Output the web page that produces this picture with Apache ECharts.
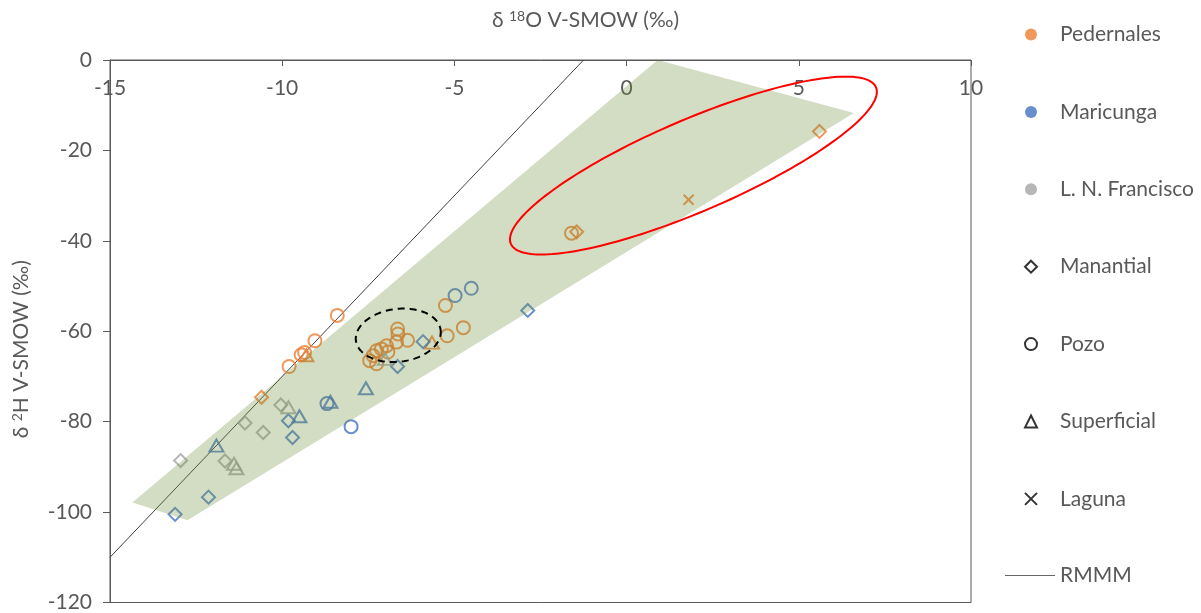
<!DOCTYPE html>
<html>
<head>
<meta charset="utf-8">
<script src="https://cdn.jsdelivr.net/npm/echarts@6/dist/echarts.min.js"></script>
<style>
  html, body { margin: 0; padding: 0; background: #ffffff; }
  #chart { width: 1201px; height: 613px; }
</style>
</head>
<body>
<div id="chart"></div>
<script>
// Axis ticks (δ18O on x, δ2H on y, both ‰ V-SMOW)
const xTickValues = [-15, -10, -5, 0, 5, 10];
const yTickValues = [-120, -100, -80, -60, -40, -20, 0];

// Pedernales samples [δ18O, δ2H]
const pedernalesManantial = [[-10.6, -74.6], [-1.45, -38.0], [5.6, -15.8]];
const pedernalesPozo = [
  [-8.4, -56.5], [-9.05, -62.1], [-9.45, -65.2], [-9.35, -64.7], [-9.8, -67.8],
  [-5.26, -54.3], [-4.74, -59.2], [-5.21, -61.0],
  [-6.65, -59.5], [-6.64, -60.6], [-6.36, -62.0], [-6.68, -62.4], [-6.97, -63.2],
  [-7.12, -63.9], [-7.26, -64.3], [-6.93, -64.6], [-7.36, -65.4], [-7.46, -66.5],
  [-7.26, -67.2], [-1.6, -38.3]
];
const pedernalesSuperficial = [[-9.3, -65.3], [-5.65, -62.5]];
const pedernalesLaguna = [[1.8, -30.9]];

// Maricunga samples
const maricungaManantial = [
  [-2.87, -55.4], [-5.91, -62.3], [-6.65, -67.8], [-9.82, -79.8],
  [-9.70, -83.5], [-12.14, -96.7], [-13.11, -100.5]
];
const maricungaPozo = [[-4.51, -50.5], [-4.98, -52.1], [-8.0, -81.1], [-8.7, -76.0]];
const maricungaSuperficial = [[-8.6, -75.6], [-7.57, -72.6], [-9.5, -78.8], [-11.91, -85.3]];

// Laguna Negro Francisco samples
const franciscoManantial = [[-10.04, -76.3], [-11.08, -80.3], [-10.55, -82.4], [-12.95, -88.6], [-11.66, -88.7]];
const franciscoSuperficial = [[-9.82, -76.8], [-11.40, -89.3], [-11.33, -90.3], [-7.02, -66.1]];

// Meteoric water line end points
const rmmmLine = [[-15, -110], [-1.25, 0]];

// Shaded sample field (corner points, data units)
const fieldZone = [[0.9, 0], [6.6, -11.7], [-12.75, -101.8], [-14.35, -97.9]];

// Highlight ellipses: centre plus two conjugate radii, in data units
const evaporationEllipse = { center: [1.94, -23.35], u: [5.30, 17.33], v: [0.53, -9.31] };
const clusterEllipse = { center: [-6.63, -60.9], u: [1.23, 1.2], v: [0.1, -5.8] };

const COLORS = { ped: '#ED7D31', mar: '#4472C4', lnf: '#A5A5A5' };
const FONT = 'Lato';
const TEXT = '#595959';
const CROSS = 'path://M0,0L10,10M0,10L10,0';
const SIZES = { circle: 13, diamond: 13, triangle: [14, 12], cross: 10, rect: 10 };

function markers(name, data, shape, color) {
  const symbol = shape === 'cross' ? CROSS : shape;
  return {
    name, type: 'scatter', data, symbol, symbolSize: SIZES[shape],
    itemStyle: { color: 'rgba(0,0,0,0)', borderColor: color, borderWidth: 2 },
    emphasis: { disabled: true }, z: 3
  };
}

// Series without points, used only for the legend keys
function legendEntry(name, shape, filled, color) {
  const symbol = shape === 'cross' ? CROSS : shape;
  return {
    name, type: 'scatter', data: [], symbol,
    itemStyle: filled ? { color } : { color: 'rgba(0,0,0,0)', borderColor: color, borderWidth: 2.5 }
  };
}

function ellipsePoints(e, api, n) {
  const pts = [];
  for (let i = 0; i < n; i++) {
    const t = 2 * Math.PI * i / n;
    pts.push(api.coord([
      e.center[0] + Math.cos(t) * e.u[0] + Math.sin(t) * e.v[0],
      e.center[1] + Math.cos(t) * e.u[1] + Math.sin(t) * e.v[1]
    ]));
  }
  return pts;
}

const legendText = { color: TEXT, fontSize: 21, fontFamily: FONT };

const chart = echarts.init(document.getElementById('chart'));

chart.setOption({
  animation: false,
  backgroundColor: '#ffffff',
  grid: { left: 110, right: 230, top: 60, bottom: 8, show: true, borderColor: TEXT, borderWidth: 1, containLabel: false },
  xAxis: {
    type: 'value', position: 'top',
    min: xTickValues[0], max: xTickValues[xTickValues.length - 1], interval: 5,
    axisLine: { onZero: false, lineStyle: { color: TEXT, width: 1 } },
    axisTick: { inside: true, length: 6, lineStyle: { color: TEXT } },
    axisLabel: { inside: true, margin: 18, color: TEXT, fontSize: 21, fontFamily: FONT, showMinLabel: true, showMaxLabel: true },
    splitLine: { show: false },
    name: '{t|δ }{s|18}{t|O V-SMOW (‰)}',
    nameLocation: 'middle', nameGap: 29,
    nameTextStyle: {
      padding: [0, 0, 0, 90],
      rich: {
        t: { fontSize: 21, fontFamily: FONT, color: TEXT },
        s: { fontSize: 14, fontFamily: FONT, color: TEXT, padding: [0, 0, 8, 0] }
      }
    }
  },
  yAxis: {
    type: 'value',
    min: yTickValues[0], max: yTickValues[yTickValues.length - 1], interval: 20,
    axisLine: { onZero: false, lineStyle: { color: TEXT, width: 1 } },
    axisTick: { inside: false, length: 7, lineStyle: { color: TEXT } },
    axisLabel: { margin: 18, color: TEXT, fontSize: 21, fontFamily: FONT, showMinLabel: true, showMaxLabel: true },
    splitLine: { show: false },
    name: '{t|δ }{s|2}{t|H V-SMOW (‰)}',
    nameLocation: 'middle', nameGap: 78, nameRotate: 90,
    nameTextStyle: {
      padding: [0, 36, 0, 0],
      rich: {
        t: { fontSize: 21, fontFamily: FONT, color: TEXT },
        s: { fontSize: 14, fontFamily: FONT, color: TEXT, padding: [0, 0, 8, 0] }
      }
    }
  },
  legend: [
    {
      orient: 'vertical', left: 1024, top: 24, padding: 0,
      itemWidth: 12, itemHeight: 12, itemGap: 56.4,
      textStyle: Object.assign({ padding: [0, 0, 0, 18] }, legendText),
      selectedMode: false,
      data: ['Pedernales', 'Maricunga', 'L. N. Francisco', 'Manantial', 'Pozo', 'Superficial', 'Laguna']
    },
    {
      orient: 'vertical', left: 1005, top: 565, padding: 0,
      itemWidth: 50, itemHeight: 1,
      textStyle: legendText,
      selectedMode: false,
      data: ['RMMM']
    }
  ],
  series: [
    legendEntry('Pedernales', 'circle', true, COLORS.ped),
    legendEntry('Maricunga', 'circle', true, COLORS.mar),
    legendEntry('L. N. Francisco', 'circle', true, COLORS.lnf),
    legendEntry('Manantial', 'diamond', false, '#000000'),
    legendEntry('Pozo', 'circle', false, '#000000'),
    legendEntry('Superficial', 'triangle', false, '#000000'),
    legendEntry('Laguna', 'cross', false, '#000000'),
    legendEntry('RMMM', 'rect', true, '#404040'),
    {
      type: 'line', data: rmmmLine, symbol: 'none', z: 2,
      lineStyle: { color: '#404040', width: 1 },
      emphasis: { disabled: true }
    },
    markers('Pedernales Manantial', pedernalesManantial, 'diamond', COLORS.ped),
    markers('Pedernales Pozo', pedernalesPozo, 'circle', COLORS.ped),
    markers('Pedernales Superficial', pedernalesSuperficial, 'triangle', COLORS.ped),
    markers('Pedernales Laguna', pedernalesLaguna, 'cross', COLORS.ped),
    markers('Maricunga Manantial', maricungaManantial, 'diamond', COLORS.mar),
    markers('Maricunga Pozo', maricungaPozo, 'circle', COLORS.mar),
    markers('Maricunga Superficial', maricungaSuperficial, 'triangle', COLORS.mar),
    markers('L. N. Francisco Manantial', franciscoManantial, 'diamond', COLORS.lnf),
    markers('L. N. Francisco Superficial', franciscoSuperficial, 'triangle', COLORS.lnf),
    {
      type: 'custom', coordinateSystem: 'cartesian2d', data: [[0, 0]], z: 6, silent: true, clip: false,
      renderItem: (params, api) => ({
        type: 'polygon',
        shape: { points: fieldZone.map(p => api.coord(p)) },
        style: { fill: 'rgba(110,143,57,0.3)', stroke: null }
      })
    },
    {
      type: 'custom', coordinateSystem: 'cartesian2d', data: [[0, 0]], z: 8, silent: true, clip: false,
      renderItem: (params, api) => ({
        type: 'group',
        children: [
          {
            type: 'polygon',
            shape: { points: ellipsePoints(evaporationEllipse, api, 180) },
            style: { fill: 'none', stroke: '#FF0000', lineWidth: 2 }
          },
          {
            type: 'polygon',
            shape: { points: ellipsePoints(clusterEllipse, api, 120) },
            style: { fill: 'none', stroke: '#000000', lineWidth: 2, lineDash: [7, 5] }
          }
        ]
      })
    }
  ]
});
</script>
</body>
</html>
